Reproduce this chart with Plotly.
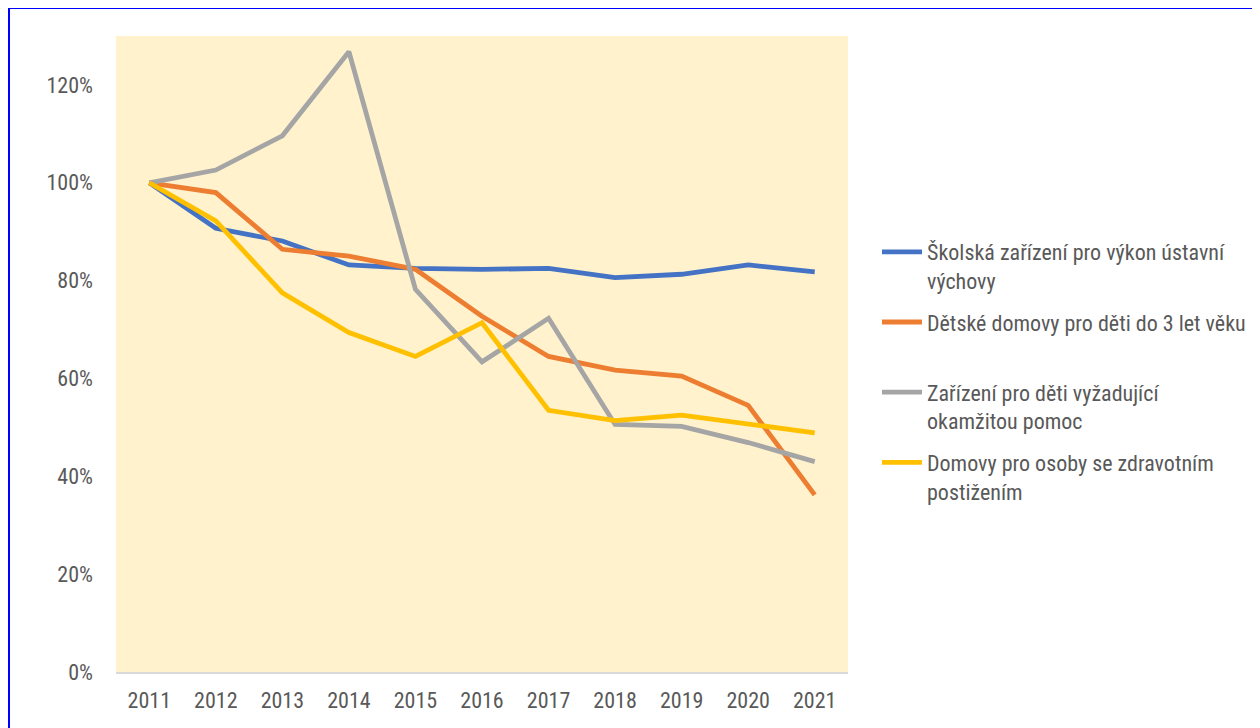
import plotly.graph_objects as go

years = ["2011", "2012", "2013", "2014", "2015", "2016", "2017", "2018", "2019", "2020", "2021"]

skolska = [100, 90.7, 88.1, 83.2, 82.5, 82.3, 82.5, 80.6, 81.3, 83.2, 81.8]
detske = [100, 98.0, 86.4, 85.0, 82.3, 72.7, 64.5, 61.7, 60.5, 54.5, 36.2]
zarizeni = [100, 102.6, 109.6, 126.8, 78.2, 63.4, 72.3, 50.6, 50.2, 46.9, 43.0]
domovy = [100, 92.2, 77.5, 69.4, 64.5, 71.4, 53.5, 51.4, 52.5, 50.6, 48.9]

names = [
    "Školská zařízení pro výkon ústavní<br>výchovy",
    "Dětské domovy pro děti do 3 let věku<br> ",
    "Zařízení pro děti vyžadující<br>okamžitou pomoc",
    "Domovy pro osoby se zdravotním<br>postižením",
]
series = [skolska, detske, zarizeni, domovy]
colors = ["#4472C4", "#ED7D31", "#A5A5A5", "#FFC000"]

FONT = "Liberation Sans Narrow, Arial Narrow, Roboto Condensed, Liberation Sans, sans-serif"

fig = go.Figure()
for i, (n, s, c) in enumerate(zip(names, series, colors)):
    fig.add_trace(go.Scatter(
        x=years, y=s, name=n, mode="lines",
        line=dict(color=c, width=4.8),
        legendgroup=f"g{i}",
    ))

# page body has an 8px offset; target pixel positions are compensated
OFF = 8
W, H = 1260, 728
L = 116 - OFF
T = 36 - OFF
pw = 848 - 116
ph = 672 - 36
R = W - L - pw
B = H - T - ph

def px(x):
    return (x - OFF - L) / pw

def py(y):
    return (H - B - (y - OFF)) / ph

fig.update_layout(
    width=W, height=H,
    margin=dict(l=L, r=R, t=T, b=B),
    paper_bgcolor="white",
    plot_bgcolor="#FFF2CC",
    font=dict(family=FONT, size=22, color="#595959"),
    showlegend=True,
    legend=dict(
        x=px(877), y=py(231), xanchor="left", yanchor="top",
        bgcolor="rgba(0,0,0,0)",
        font=dict(family=FONT, size=22, color="#595959"),
        valign="top",
        tracegroupgap=10,
        itemwidth=40,
    ),
    xaxis=dict(
        type="category",
        range=[-0.5, 10.5],
        showgrid=False,
        showline=True, linecolor="#D9D9D9", linewidth=2,
        ticks="", ticklabelstandoff=8,
        tickfont=dict(size=22, color="#595959"),
        zeroline=False,
    ),
    yaxis=dict(
        range=[0, 130],
        tickvals=[0, 20, 40, 60, 80, 100, 120],
        ticktext=["0%", "20%", "40%", "60%", "80%", "100%", "120%"],
        showgrid=False, zeroline=False, showline=False,
        ticks="", ticklabelstandoff=22,
        tickfont=dict(size=22, color="#595959"),
    ),
    shapes=[dict(
        type="rect", xref="paper", yref="paper",
        x0=px(8.5), x1=px(1290), y0=py(760), y1=py(7.5),
        line=dict(color="#0000FF", width=3),
        fillcolor="rgba(0,0,0,0)", layer="above",
    )],
)

fig.write_html("out.html")
